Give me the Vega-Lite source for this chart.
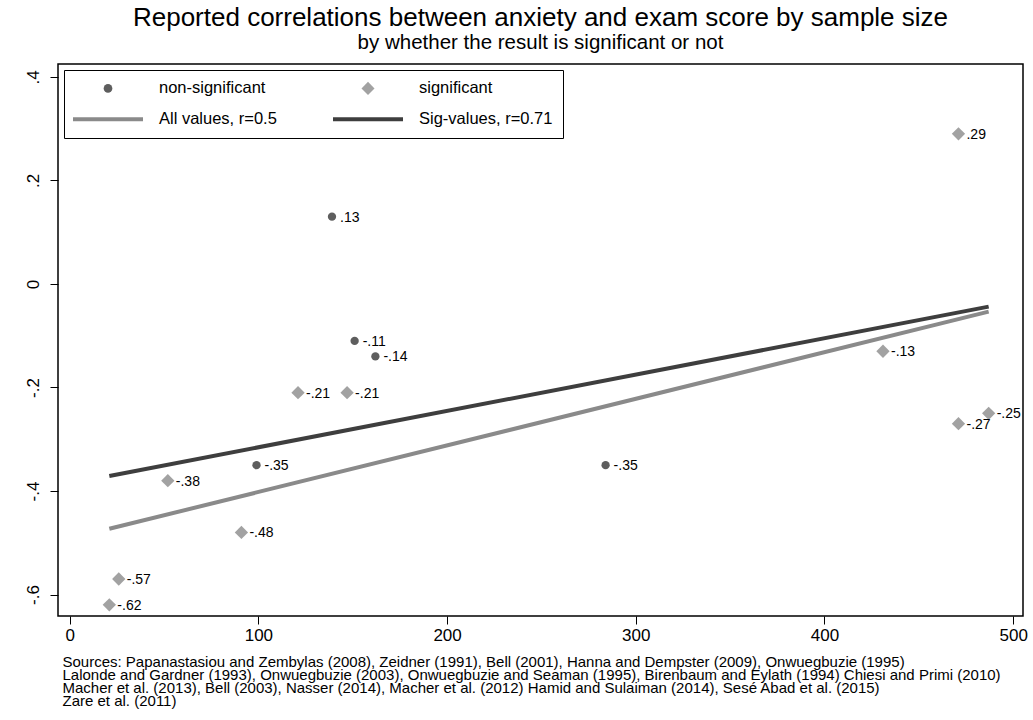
{
  "$schema": "https://vega.github.io/schema/vega-lite/v6.json",
  "width": 965,
  "height": 552,
  "autosize": {"type": "none"},
  "padding": {"left": 58, "top": 64, "right": 10, "bottom": 104},
  "background": "white",
  "config": {
    "font": "Liberation Sans",
    "view": {"stroke": "#000000", "strokeWidth": 1.5},
    "axis": {"grid": false, "domain": false, "tickColor": "#000000", "tickWidth": 1, "labelColor": "#000000", "labelFont": "Liberation Sans"}
  },
  "title": {
    "text": "Reported correlations between anxiety and exam score by sample size",
    "subtitle": "by whether the result is significant or not",
    "font": "Liberation Sans",
    "subtitleFont": "Liberation Sans",
    "fontSize": 26,
    "fontWeight": "normal",
    "subtitleFontSize": 20.5,
    "color": "#000000",
    "subtitleColor": "#000000",
    "anchor": "middle",
    "offset": 11,
    "subtitlePadding": 2
  },
  "datasets": {
    "points": [
      {"n": 139, "r": 0.13, "group": "non-significant", "label": ".13"},
      {"n": 151, "r": -0.11, "group": "non-significant", "label": "-.11"},
      {"n": 162, "r": -0.14, "group": "non-significant", "label": "-.14"},
      {"n": 99, "r": -0.35, "group": "non-significant", "label": "-.35"},
      {"n": 284, "r": -0.35, "group": "non-significant", "label": "-.35"},
      {"n": 471, "r": 0.29, "group": "significant", "label": ".29"},
      {"n": 121, "r": -0.21, "group": "significant", "label": "-.21"},
      {"n": 147, "r": -0.21, "group": "significant", "label": "-.21"},
      {"n": 52, "r": -0.38, "group": "significant", "label": "-.38"},
      {"n": 91, "r": -0.48, "group": "significant", "label": "-.48"},
      {"n": 26, "r": -0.57, "group": "significant", "label": "-.57"},
      {"n": 21, "r": -0.62, "group": "significant", "label": "-.62"},
      {"n": 431, "r": -0.13, "group": "significant", "label": "-.13"},
      {"n": 487, "r": -0.25, "group": "significant", "label": "-.25"},
      {"n": 471, "r": -0.27, "group": "significant", "label": "-.27"}
    ],
    "fits": [
      {"n": 21, "r": -0.473, "group": "All values, r=0.5"},
      {"n": 487, "r": -0.0535, "group": "All values, r=0.5"},
      {"n": 21, "r": -0.371, "group": "Sig-values, r=0.71"},
      {"n": 487, "r": -0.0438, "group": "Sig-values, r=0.71"}
    ]
  },
  "encoding": {
    "x": {
      "field": "n",
      "type": "quantitative",
      "scale": {"domain": [-6.2, 505.2], "nice": false, "zero": false},
      "axis": {
        "values": [0, 100, 200, 300, 400, 500],
        "tickSize": 8,
        "labelFontSize": 17,
        "labelPadding": 3,
        "labelFlush": false,
        "labelOverlap": false,
        "title": [
          "Sources: Papanastasiou and Zembylas (2008), Zeidner (1991), Bell (2001), Hanna and Dempster (2009), Onwuegbuzie (1995)",
          "Lalonde and Gardner (1993), Onwuegbuzie (2003), Onwuegbuzie and Seaman (1995), Birenbaum and Eylath (1994) Chiesi and Primi (2010)",
          "Macher et al. (2013), Bell (2003), Nasser (2014), Macher et al. (2012) Hamid and Sulaiman (2014), Sesé Abad et al. (2015)",
          "Zare et al. (2011)"
        ],
        "titleFont": "Liberation Sans",
        "titleFontSize": 15,
        "titleFontWeight": "normal",
        "titleColor": "#000000",
        "titleAnchor": "start",
        "titleAlign": "left",
        "titleLineHeight": 13,
        "titlePadding": 11,
        "titleX": 4
      }
    },
    "y": {
      "field": "r",
      "type": "quantitative",
      "scale": {"domain": [-0.6415, 0.425], "nice": false, "zero": false},
      "axis": {
        "values": [-0.6, -0.4, -0.2, 0, 0.2, 0.4],
        "labelExpr": "datum.value == 0 ? '0' : (datum.value < 0 ? '-.' : '.') + round(abs(datum.value) * 10)",
        "labelAngle": 270,
        "labelAlign": "center",
        "labelBaseline": "bottom",
        "labelFlush": false,
        "labelOverlap": false,
        "tickSize": 8,
        "labelPadding": 8,
        "labelFontSize": 17,
        "title": null
      }
    }
  },
  "layer": [
    {
      "data": {"name": "fits"},
      "mark": {"type": "line", "strokeWidth": 4, "strokeCap": "butt"},
      "encoding": {
        "color": {
          "field": "group",
          "type": "nominal",
          "scale": {
            "domain": ["non-significant", "significant", "All values, r=0.5", "Sig-values, r=0.71"],
            "range": ["#5e5e5e", "#a2a2a2", "#8a8a8a", "#3e3e3e"]
          },
          "legend": {
            "title": null,
            "orient": "top-left",
            "direction": "horizontal",
            "offset": 6,
            "columns": 2,
            "padding": 10,
            "strokeColor": "#000000",
            "fillColor": "#ffffff",
            "cornerRadius": 0,
            "labelFont": "Liberation Sans",
            "labelFontSize": 16.5,
            "labelColor": "#000000",
            "labelLimit": 300,
            "rowPadding": 14,
            "columnPadding": 48,
            "symbolSize": 100,
            "encoding": {
              "symbols": {
                "x": {"value": 34},
                "shape": {"value": {"expr": "datum.value === 'non-significant' ? 'circle' : datum.value === 'significant' ? 'diamond' : 'stroke'"}},
                "size": {"value": {"expr": "datum.value === 'non-significant' ? 75 : datum.value === 'significant' ? 170 : 4900"}},
                "strokeWidth": {"value": {"expr": "datum.value === 'non-significant' || datum.value === 'significant' ? 0 : 4"}},
                "fill": {"value": {"expr": "datum.value === 'non-significant' ? '#5e5e5e' : datum.value === 'significant' ? '#a2a2a2' : 'transparent'"}},
                "stroke": {"value": {"expr": "datum.value === 'All values, r=0.5' ? '#8a8a8a' : '#3e3e3e'"}},
                "opacity": {"value": 1}
              },
              "labels": {
                "x": {"value": 85}
              }
            }
          }
        }
      }
    },
    {
      "data": {"name": "points"},
      "mark": {"type": "point", "filled": true, "opacity": 1},
      "encoding": {
        "color": {"field": "group", "type": "nominal"},
        "shape": {
          "field": "group",
          "type": "nominal",
          "scale": {"domain": ["non-significant", "significant"], "range": ["circle", "diamond"]},
          "legend": null
        },
        "size": {
          "field": "group",
          "type": "nominal",
          "scale": {"domain": ["non-significant", "significant"], "range": [69, 177]},
          "legend": null
        }
      }
    },
    {
      "data": {"name": "points"},
      "mark": {"type": "text", "align": "left", "baseline": "middle", "dx": 8, "dy": 1, "fontSize": 14, "font": "Liberation Sans", "color": "#000000"},
      "encoding": {
        "text": {"field": "label"}
      }
    }
  ]
}
